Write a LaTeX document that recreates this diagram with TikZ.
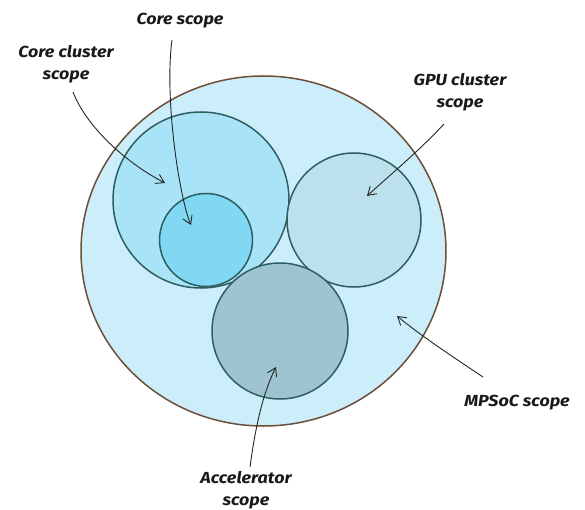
\documentclass[tikz,border=0pt]{standalone}
\usepackage{fontspec}
\setmainfont{Fira Sans}[FakeStretch=1.12]
\usetikzlibrary{arrows.meta,shapes.geometric}

\definecolor{socfill}{HTML}{CBEEFA}
\definecolor{socedge}{HTML}{6E4E36}
\definecolor{clusterfill}{HTML}{A8E3F7}
\definecolor{corefill}{HTML}{80D8F3}
\definecolor{gpufill}{HTML}{BCE0EC}
\definecolor{accfill}{HTML}{9EC4D1}
\definecolor{ringedge}{HTML}{2F5E60}

\tikzset{
  scopering/.style={circle, draw=ringedge, line width=1.5pt, inner sep=0pt},
  caption/.style={font=\itshape\bfseries\fontsize{16}{21.5}\selectfont, align=center, text=black!90},
  pointer/.style={draw=black!85, line width=0.9pt, -{Straight Barb[length=8pt,width=10pt,line width=0.9pt]}}
}

\begin{document}
\begin{tikzpicture}[x=1pt,y=-1pt]
  \useasboundingbox (0,0) rectangle (585,510);

  % outer MPSoC scope
  \node[ellipse, draw=socedge, fill=socfill, line width=1.5pt, inner sep=0pt,
        minimum width=365pt, minimum height=350pt] (soc) at (263.5,251) {};

  % core cluster with one core inside
  \node[scopering, fill=clusterfill, minimum size=176pt] (cluster) at (201,200) {};
  \node[scopering, fill=corefill, minimum size=93pt] (core) at (206,240) {};

  % GPU cluster and accelerator
  \node[scopering, fill=gpufill, minimum size=134pt] (gpu) at (354,220) {};
  \node[scopering, fill=accfill, minimum size=136pt] (acc) at (280,331) {};

  % labels
  \node[caption] (lcore) at (180,21) {Core scope};
  \node[caption] (lcluster) at (66,64) {Core cluster\\scope};
  \node[caption] (lgpu) at (460,92) {GPU cluster\\scope};
  \node[caption] (lsoc) at (517,403) {MPSoC scope};
  \node[caption] (lacc) at (246,490) {Accelerator\\scope};

  % where each pointer leaves its label
  \coordinate (score) at (172,40);
  \coordinate (scluster) at (73,92);
  \coordinate (sgpu) at (444,124);
  \coordinate (ssoc) at (483,377);
  \coordinate (sacc) at (250,467);

  % where each pointer ends
  \coordinate (tcore) at (191,225);
  \coordinate (tcluster) at (165,183);
  \coordinate (tgpu) at (367,196);
  \coordinate (tsoc) at (397,316);
  \coordinate (tacc) at (276,367);

  % pointers
  \draw[pointer] (score) .. controls (164,100) and (180,200) .. (tcore);
  \draw[pointer] (scluster) .. controls (88,130) and (130,165) .. (tcluster);
  \draw[pointer] (sgpu) .. controls (420,150) and (390,175) .. (tgpu);
  \draw[pointer] (ssoc) .. controls (450,355) and (420,335) .. (tsoc);
  \draw[pointer] (sacc) .. controls (255,430) and (262,395) .. (tacc);
\end{tikzpicture}
\end{document}
